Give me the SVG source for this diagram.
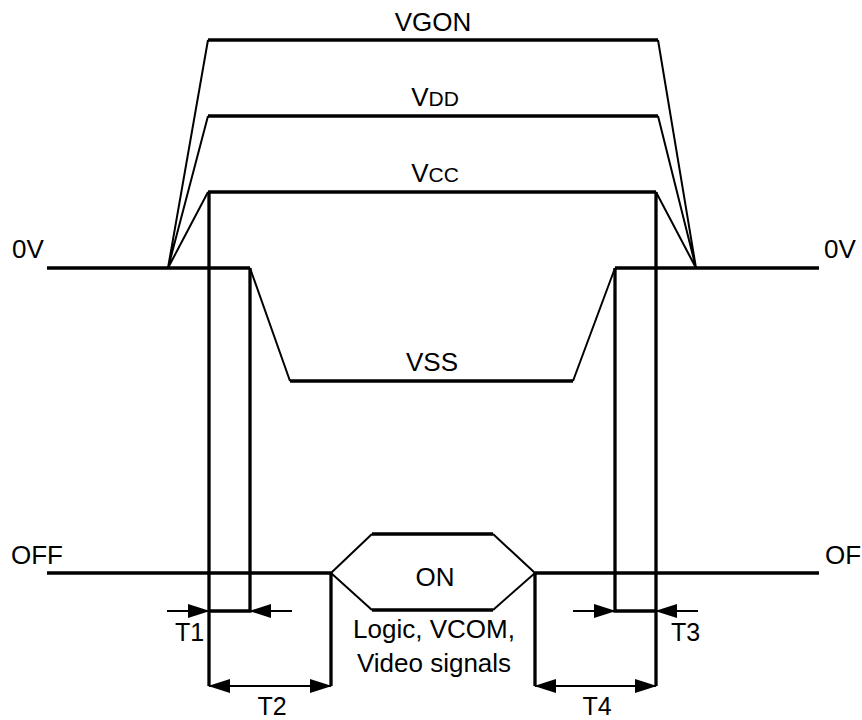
<svg xmlns="http://www.w3.org/2000/svg" width="862" height="720" viewBox="0 0 862 720">
<style>
.thick{fill:none;stroke:#000;stroke-width:3.3;stroke-linejoin:miter}
.thin{fill:none;stroke:#000;stroke-width:2}
.arr{fill:none;stroke:#000;stroke-width:2}
text{font-family:"Liberation Sans",Arial,sans-serif;fill:#000;font-size:26px}
.mid{text-anchor:middle}
.sm{font-size:21px}
.t{font-size:25px}
</style>
<defs>
<marker id="ah" markerUnits="userSpaceOnUse" markerWidth="22" markerHeight="14" refX="21" refY="7" orient="auto-start-reverse" viewBox="0 0 22 14">
<path d="M0,0 L22,7 L0,14 Z" fill="#000"/>
</marker>
</defs>
<rect width="862" height="720" fill="#fff"/>
<g id="connectors">
<path class="thin" d="M168,268 L208,40 M168,268 L208,116 M168,268 L208,192"/>
<path class="thin" d="M696,268 L658,40 M696,268 L658,116 M696,268 L656,192"/>
<path class="thin" d="M250,268 L290,381 M573,381 L615,268"/>
</g>
<g id="vgon"><path class="thick" d="M208,40 H658"/><text class="mid" x="433" y="31">VGON</text></g>
<g id="vdd"><path class="thick" d="M208,116 H658"/><text class="mid" x="435" y="106">V<tspan class="sm">DD</tspan></text></g>
<g id="vcc"><path class="thick" d="M208,192 H656"/><text class="mid" x="435" y="182">V<tspan class="sm">CC</tspan></text></g>
<g id="zero-volt">
<path class="thick" d="M47,268 H250 M290,381 H573 M615,268 H819"/>
<text x="12" y="258">0V</text>
<text x="824" y="258">0V</text>
<text class="mid" x="432" y="371">VSS</text>
</g>
<g id="timing">
<path class="thick" d="M209,192 V686 M656,192 V686 M250,268 V611 H209 M615,268 V611 H656 M331,573 V686 M535,573 V686"/>
</g>
<g id="off-line">
<path class="thick" d="M47,573 H331 M535,573 H819"/>
<text x="11" y="564">OFF</text>
<text x="825" y="564">OFF</text>
</g>
<g id="on">
<path class="thick" d="M372,534 H493 M372,610 H493"/>
<path class="thin" d="M372,534 L331,573 L372,610 M493,534 L535,573 L493,610"/>
<text class="mid" x="435" y="586">ON</text>
<text class="mid" x="434" y="638">Logic, VCOM,</text>
<text class="mid" x="434" y="672">Video signals</text>
</g>
<g id="dims">
<path class="arr" d="M167,611 H209" marker-end="url(#ah)"/>
<path class="arr" d="M292,611 H250" marker-end="url(#ah)"/>
<path class="arr" d="M573,611 H615" marker-end="url(#ah)"/>
<path class="arr" d="M698,611 H656" marker-end="url(#ah)"/>
<path class="arr" d="M209,686 H331" marker-start="url(#ah)" marker-end="url(#ah)"/>
<path class="arr" d="M535,686 H656" marker-start="url(#ah)" marker-end="url(#ah)"/>
<text class="t" x="175" y="641">T1</text>
<text class="t mid" x="272" y="715">T2</text>
<text class="t" x="671" y="641">T3</text>
<text class="t mid" x="597" y="715">T4</text>
</g>
</svg>
